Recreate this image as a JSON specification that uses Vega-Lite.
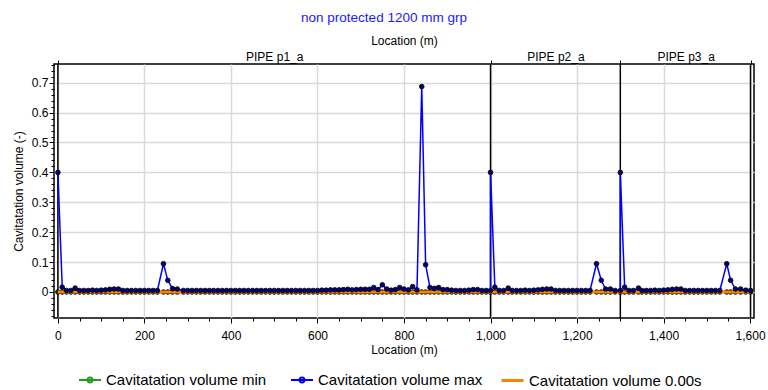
{
  "$schema": "https://vega.github.io/schema/vega-lite/v6.json",
  "width": 700,
  "height": 254,
  "autosize": {"type": "none"},
  "padding": {"left": 54, "top": 64, "right": 14, "bottom": 72},
  "background": "white",
  "config": {
    "font": "Liberation Sans",
    "view": {"stroke": "black", "strokeWidth": 1.5},
    "axis": {
      "labelFont": "Liberation Sans", "titleFont": "Liberation Sans",
      "labelColor": "black", "titleColor": "black", "titleFontWeight": "normal",
      "labelFontSize": 12, "titleFontSize": 12, "domain": false,
      "tickColor": "black", "gridColor": "#d9d9d9", "gridWidth": 1.5
    },
    "legend": {
      "labelFontSize": 15, "labelFont": "Liberation Sans", "labelColor": "black", "labelLimit": 400,
      "symbolSize": 484, "symbolStrokeWidth": 2, "labelOffset": 4, "padding": 0
    }
  },
  "title": {"text": "non protected 1200 mm grp", "color": "#1a1aff", "fontSize": 13.5, "fontWeight": "normal", "font": "Liberation Sans", "anchor": "middle", "dx": -20, "offset": 10},
  "datasets": {
    "pipes": [{"b": 0}, {"b": 1000}, {"b": 1300}, {"b": 1601}],
    "nodes": [
      {"i":0,"x":0,"mx":0.4,"mn":0,"t0":0},
      {"i":1,"x":10,"mx":0.016,"mn":0,"t0":0},
      {"i":2,"x":20,"mx":0.005,"mn":0,"t0":0},
      {"i":3,"x":30,"mx":0.005,"mn":0,"t0":0},
      {"i":4,"x":40,"mx":0.013,"mn":0,"t0":0},
      {"i":5,"x":50,"mx":0.005,"mn":0,"t0":0},
      {"i":6,"x":60,"mx":0.005,"mn":0,"t0":0},
      {"i":7,"x":70,"mx":0.005,"mn":0,"t0":0},
      {"i":8,"x":80,"mx":0.006,"mn":0,"t0":0},
      {"i":9,"x":90,"mx":0.005,"mn":0,"t0":0},
      {"i":10,"x":100,"mx":0.006,"mn":0,"t0":0},
      {"i":11,"x":110,"mx":0.007,"mn":0,"t0":0},
      {"i":12,"x":120,"mx":0.009,"mn":0,"t0":0},
      {"i":13,"x":130,"mx":0.01,"mn":0,"t0":0},
      {"i":14,"x":140,"mx":0.01,"mn":0,"t0":0},
      {"i":15,"x":150,"mx":0.005,"mn":0,"t0":0},
      {"i":16,"x":160,"mx":0.005,"mn":0,"t0":0},
      {"i":17,"x":170,"mx":0.005,"mn":0,"t0":0},
      {"i":18,"x":180,"mx":0.005,"mn":0,"t0":0},
      {"i":19,"x":190,"mx":0.005,"mn":0,"t0":0},
      {"i":20,"x":200,"mx":0.005,"mn":0,"t0":0},
      {"i":21,"x":210,"mx":0.005,"mn":0,"t0":0},
      {"i":22,"x":220,"mx":0.005,"mn":0,"t0":0},
      {"i":23,"x":230,"mx":0.005,"mn":0,"t0":0},
      {"i":24,"x":244,"mx":0.0945,"mn":0,"t0":0},
      {"i":25,"x":254,"mx":0.039,"mn":0,"t0":0},
      {"i":26,"x":265,"mx":0.011,"mn":0,"t0":0},
      {"i":27,"x":276,"mx":0.01,"mn":0,"t0":0},
      {"i":28,"x":290,"mx":0.005,"mn":0,"t0":0},
      {"i":29,"x":300,"mx":0.005,"mn":0,"t0":0},
      {"i":30,"x":310,"mx":0.005,"mn":0,"t0":0},
      {"i":31,"x":320,"mx":0.005,"mn":0,"t0":0},
      {"i":32,"x":330,"mx":0.005,"mn":0,"t0":0},
      {"i":33,"x":340,"mx":0.005,"mn":0,"t0":0},
      {"i":34,"x":350,"mx":0.005,"mn":0,"t0":0},
      {"i":35,"x":360,"mx":0.005,"mn":0,"t0":0},
      {"i":36,"x":370,"mx":0.005,"mn":0,"t0":0},
      {"i":37,"x":380,"mx":0.005,"mn":0,"t0":0},
      {"i":38,"x":390,"mx":0.005,"mn":0,"t0":0},
      {"i":39,"x":400,"mx":0.005,"mn":0,"t0":0},
      {"i":40,"x":410,"mx":0.005,"mn":0,"t0":0},
      {"i":41,"x":420,"mx":0.005,"mn":0,"t0":0},
      {"i":42,"x":430,"mx":0.005,"mn":0,"t0":0},
      {"i":43,"x":440,"mx":0.005,"mn":0,"t0":0},
      {"i":44,"x":450,"mx":0.005,"mn":0,"t0":0},
      {"i":45,"x":460,"mx":0.005,"mn":0,"t0":0},
      {"i":46,"x":470,"mx":0.005,"mn":0,"t0":0},
      {"i":47,"x":480,"mx":0.005,"mn":0,"t0":0},
      {"i":48,"x":490,"mx":0.005,"mn":0,"t0":0},
      {"i":49,"x":500,"mx":0.005,"mn":0,"t0":0},
      {"i":50,"x":510,"mx":0.005,"mn":0,"t0":0},
      {"i":51,"x":520,"mx":0.005,"mn":0,"t0":0},
      {"i":52,"x":530,"mx":0.005,"mn":0,"t0":0},
      {"i":53,"x":540,"mx":0.005,"mn":0,"t0":0},
      {"i":54,"x":550,"mx":0.005,"mn":0,"t0":0},
      {"i":55,"x":560,"mx":0.005,"mn":0,"t0":0},
      {"i":56,"x":570,"mx":0.005,"mn":0,"t0":0},
      {"i":57,"x":580,"mx":0.005,"mn":0,"t0":0},
      {"i":58,"x":590,"mx":0.005,"mn":0,"t0":0},
      {"i":59,"x":600,"mx":0.005,"mn":0,"t0":0},
      {"i":60,"x":610,"mx":0.006,"mn":0,"t0":0},
      {"i":61,"x":620,"mx":0.006,"mn":0,"t0":0},
      {"i":62,"x":630,"mx":0.007,"mn":0,"t0":0},
      {"i":63,"x":640,"mx":0.007,"mn":0,"t0":0},
      {"i":64,"x":650,"mx":0.007,"mn":0,"t0":0},
      {"i":65,"x":660,"mx":0.008,"mn":0,"t0":0},
      {"i":66,"x":670,"mx":0.009,"mn":0,"t0":0},
      {"i":67,"x":680,"mx":0.007,"mn":0,"t0":0},
      {"i":68,"x":690,"mx":0.008,"mn":0,"t0":0},
      {"i":69,"x":700,"mx":0.009,"mn":0,"t0":0},
      {"i":70,"x":710,"mx":0.009,"mn":0,"t0":0},
      {"i":71,"x":720,"mx":0.009,"mn":0,"t0":0},
      {"i":72,"x":730,"mx":0.015,"mn":0,"t0":0},
      {"i":73,"x":740,"mx":0.008,"mn":0,"t0":0},
      {"i":74,"x":750,"mx":0.024,"mn":0,"t0":0},
      {"i":75,"x":760,"mx":0.01,"mn":0,"t0":0},
      {"i":76,"x":770,"mx":0.006,"mn":0,"t0":0},
      {"i":77,"x":780,"mx":0.008,"mn":0,"t0":0},
      {"i":78,"x":790,"mx":0.015,"mn":0,"t0":0},
      {"i":79,"x":800,"mx":0.01,"mn":0,"t0":0},
      {"i":80,"x":810,"mx":0.007,"mn":0,"t0":0},
      {"i":81,"x":820,"mx":0.018,"mn":0,"t0":0},
      {"i":82,"x":830,"mx":0.007,"mn":0,"t0":0},
      {"i":83,"x":841,"mx":0.687,"mn":0,"t0":0},
      {"i":84,"x":850,"mx":0.091,"mn":0,"t0":0},
      {"i":85,"x":860,"mx":0.015,"mn":0,"t0":0},
      {"i":86,"x":870,"mx":0.012,"mn":0,"t0":0},
      {"i":87,"x":880,"mx":0.015,"mn":0,"t0":0},
      {"i":88,"x":890,"mx":0.008,"mn":0,"t0":0},
      {"i":89,"x":900,"mx":0.008,"mn":0,"t0":0},
      {"i":90,"x":910,"mx":0.006,"mn":0,"t0":0},
      {"i":91,"x":920,"mx":0.005,"mn":0,"t0":0},
      {"i":92,"x":930,"mx":0.005,"mn":0,"t0":0},
      {"i":93,"x":940,"mx":0.005,"mn":0,"t0":0},
      {"i":94,"x":950,"mx":0.006,"mn":0,"t0":0},
      {"i":95,"x":960,"mx":0.008,"mn":0,"t0":0},
      {"i":96,"x":970,"mx":0.008,"mn":0,"t0":0},
      {"i":97,"x":980,"mx":0.005,"mn":0,"t0":0},
      {"i":98,"x":990,"mx":0.005,"mn":0,"t0":0},
      {"i":99,"x":1000,"mx":0.005,"mn":0,"t0":0},
      {"i":100,"x":1000,"mx":0.4,"mn":0,"t0":0},
      {"i":101,"x":1010,"mx":0.016,"mn":0,"t0":0},
      {"i":102,"x":1020,"mx":0.005,"mn":0,"t0":0},
      {"i":103,"x":1030,"mx":0.005,"mn":0,"t0":0},
      {"i":104,"x":1041,"mx":0.013,"mn":0,"t0":0},
      {"i":105,"x":1050,"mx":0.005,"mn":0,"t0":0},
      {"i":106,"x":1060,"mx":0.005,"mn":0,"t0":0},
      {"i":107,"x":1070,"mx":0.005,"mn":0,"t0":0},
      {"i":108,"x":1080,"mx":0.006,"mn":0,"t0":0},
      {"i":109,"x":1090,"mx":0.005,"mn":0,"t0":0},
      {"i":110,"x":1100,"mx":0.006,"mn":0,"t0":0},
      {"i":111,"x":1110,"mx":0.007,"mn":0,"t0":0},
      {"i":112,"x":1120,"mx":0.009,"mn":0,"t0":0},
      {"i":113,"x":1130,"mx":0.01,"mn":0,"t0":0},
      {"i":114,"x":1140,"mx":0.01,"mn":0,"t0":0},
      {"i":115,"x":1150,"mx":0.005,"mn":0,"t0":0},
      {"i":116,"x":1160,"mx":0.005,"mn":0,"t0":0},
      {"i":117,"x":1170,"mx":0.005,"mn":0,"t0":0},
      {"i":118,"x":1180,"mx":0.005,"mn":0,"t0":0},
      {"i":119,"x":1190,"mx":0.005,"mn":0,"t0":0},
      {"i":120,"x":1200,"mx":0.005,"mn":0,"t0":0},
      {"i":121,"x":1210,"mx":0.005,"mn":0,"t0":0},
      {"i":122,"x":1220,"mx":0.005,"mn":0,"t0":0},
      {"i":123,"x":1230,"mx":0.005,"mn":0,"t0":0},
      {"i":124,"x":1245,"mx":0.0945,"mn":0,"t0":0},
      {"i":125,"x":1256,"mx":0.039,"mn":0,"t0":0},
      {"i":126,"x":1266,"mx":0.01,"mn":0,"t0":0},
      {"i":127,"x":1277,"mx":0.01,"mn":0,"t0":0},
      {"i":128,"x":1288,"mx":0.005,"mn":0,"t0":0},
      {"i":129,"x":1300,"mx":0.005,"mn":0,"t0":0},
      {"i":130,"x":1300,"mx":0.4,"mn":0,"t0":0},
      {"i":131,"x":1310,"mx":0.016,"mn":0,"t0":0},
      {"i":132,"x":1320,"mx":0.005,"mn":0,"t0":0},
      {"i":133,"x":1330,"mx":0.005,"mn":0,"t0":0},
      {"i":134,"x":1342,"mx":0.013,"mn":0,"t0":0},
      {"i":135,"x":1350,"mx":0.005,"mn":0,"t0":0},
      {"i":136,"x":1360,"mx":0.005,"mn":0,"t0":0},
      {"i":137,"x":1370,"mx":0.005,"mn":0,"t0":0},
      {"i":138,"x":1380,"mx":0.006,"mn":0,"t0":0},
      {"i":139,"x":1390,"mx":0.005,"mn":0,"t0":0},
      {"i":140,"x":1400,"mx":0.006,"mn":0,"t0":0},
      {"i":141,"x":1410,"mx":0.007,"mn":0,"t0":0},
      {"i":142,"x":1420,"mx":0.009,"mn":0,"t0":0},
      {"i":143,"x":1430,"mx":0.01,"mn":0,"t0":0},
      {"i":144,"x":1440,"mx":0.01,"mn":0,"t0":0},
      {"i":145,"x":1450,"mx":0.005,"mn":0,"t0":0},
      {"i":146,"x":1460,"mx":0.005,"mn":0,"t0":0},
      {"i":147,"x":1470,"mx":0.005,"mn":0,"t0":0},
      {"i":148,"x":1480,"mx":0.005,"mn":0,"t0":0},
      {"i":149,"x":1490,"mx":0.005,"mn":0,"t0":0},
      {"i":150,"x":1500,"mx":0.005,"mn":0,"t0":0},
      {"i":151,"x":1510,"mx":0.005,"mn":0,"t0":0},
      {"i":152,"x":1520,"mx":0.005,"mn":0,"t0":0},
      {"i":153,"x":1530,"mx":0.005,"mn":0,"t0":0},
      {"i":154,"x":1546,"mx":0.0945,"mn":0,"t0":0},
      {"i":155,"x":1555,"mx":0.039,"mn":0,"t0":0},
      {"i":156,"x":1566,"mx":0.01,"mn":0,"t0":0},
      {"i":157,"x":1578,"mx":0.01,"mn":0,"t0":0},
      {"i":158,"x":1590,"mx":0.006,"mn":0,"t0":0},
      {"i":159,"x":1601,"mx":0.005,"mn":0,"t0":0}
    ]
  },
  "resolve": {"axis": {"x": "independent", "y": "independent"}, "scale": {"color": "independent"}, "legend": {"color": "independent"}},
  "layer": [
    {
      "data": {"name": "pipes"},
      "mark": {"type": "rule", "color": "black", "strokeWidth": 1.5},
      "encoding": {
        "x": {
          "field": "b", "type": "quantitative",
          "scale": {"domain": [-9, 1609], "nice": false, "zero": false},
          "axis": {
            "orient": "top", "title": "Location (m)", "grid": false, "ticks": false,
            "values": [500, 1150, 1451],
            "labelExpr": "datum.value==500?'PIPE p1_a':datum.value==1150?'PIPE p2_a':'PIPE p3_a'",
            "labelPadding": 1, "titlePadding": 3,
            "labelFlush": false, "labelOverlap": false
          }
        }
      }
    },
    {
      "data": {"name": "nodes"},
      "transform": [{"fold": ["mn", "t0", "mx"], "as": ["series", "v"]}, {"filter": "datum.series == 'mn'"}],
      "mark": {"type": "line", "strokeWidth": 1.5},
      "encoding": {
        "x": {
          "field": "x", "type": "quantitative",
          "scale": {"domain": [-9, 1609], "nice": false, "zero": false},
          "axis": {
            "orient": "bottom", "title": "Location (m)",
            "values": [0,200,400,600,800,1000,1200,1400,1600],
            "format": ",.0f", "grid": true,
            "tickSize": 5, "labelPadding": 7, "titlePadding": 3,
            "labelFlush": false, "labelOverlap": false
          }
        },
        "y": {
          "field": "v", "type": "quantitative",
          "scale": {"domain": [-0.087, 0.7625], "nice": false, "zero": false},
          "axis": {
            "orient": "left", "title": "Cavitatation volume (-)",
            "values": [0,0.1,0.2,0.3,0.4,0.5,0.6,0.7],
            "format": "~g", "grid": true,
            "tickSize": 5, "labelPadding": 1, "titlePadding": 6,
            "labelOverlap": false
          }
        },
        "order": {"field": "i", "type": "quantitative"},
        "color": {
          "field": "series", "type": "nominal",
          "scale": {"domain": ["mn"], "range": ["#1e9e1e"]},
          "legend": {
            "orient": "none", "legendX": 24, "legendY": 304, "title": null,
            "labelExpr": "'Cavitatation volume min'",
            "symbolType": "M-1,0H1M-0.22,0A0.22,0.22,0,1,1,0.22,0A0.22,0.22,0,1,1,-0.22,0Z"
          }
        }
      }
    },
    {
      "data": {"name": "nodes"},
      "transform": [{"fold": ["mn", "t0", "mx"], "as": ["series", "v"]}, {"filter": "datum.series == 'mn'"}],
      "mark": {"type": "point", "filled": true, "fill": "#0a3a0a", "stroke": "black", "strokeWidth": 0.8, "size": 22, "opacity": 1},
      "encoding": {
        "x": {
          "field": "x", "type": "quantitative", "scale": {"domain": [-9, 1609], "nice": false, "zero": false},
          "axis": {"orient": "bottom", "title": null, "labels": false, "grid": false, "tickSize": 3,
            "values": [50,100,150,250,300,350,450,500,550,650,700,750,850,900,950,1050,1100,1150,1250,1300,1350,1450,1500,1550]}
        },
        "y": {
          "field": "v", "type": "quantitative", "scale": {"domain": [-0.087, 0.7625], "nice": false, "zero": false},
          "axis": {"orient": "left", "title": null, "labels": false, "grid": false, "tickSize": 3,
            "values": [-0.08,-0.06,-0.04,-0.02,0.02,0.04,0.06,0.08,0.12,0.14,0.16,0.18,0.22,0.24,0.26,0.28,0.32,0.34,0.36,0.38,0.42,0.44,0.46,0.48,0.52,0.54,0.56,0.58,0.62,0.64,0.66,0.68,0.72,0.74,0.76]}
        }
      }
    },
    {
      "data": {"name": "nodes"},
      "transform": [{"fold": ["mn", "t0", "mx"], "as": ["series", "v"]}, {"filter": "datum.series == 't0'"}],
      "mark": {"type": "line", "strokeWidth": 3},
      "encoding": {
        "x": {
          "field": "x", "type": "quantitative", "scale": {"domain": [-9, 1609], "nice": false, "zero": false},
          "axis": {"orient": "top", "title": null, "labels": false, "grid": false, "tickSize": 4, "values": [0, 1000, 1300, 1601]}
        },
        "y": {"field": "v", "type": "quantitative", "scale": {"domain": [-0.087, 0.7625], "nice": false, "zero": false}, "axis": null},
        "order": {"field": "i", "type": "quantitative"},
        "color": {
          "field": "series", "type": "nominal",
          "scale": {"domain": ["t0"], "range": ["#ff8000"]},
          "legend": {
            "orient": "none", "legendX": 446, "legendY": 304, "title": null,
            "labelExpr": "'Cavitatation volume 0.00s'",
            "symbolType": "M-1,0H1", "symbolStrokeWidth": 3
          }
        }
      }
    },
    {
      "data": {"name": "nodes"},
      "transform": [{"fold": ["mn", "t0", "mx"], "as": ["series", "v"]}, {"filter": "datum.series == 'mx'"}],
      "mark": {"type": "line", "strokeWidth": 1.5},
      "encoding": {
        "x": {"field": "x", "type": "quantitative", "scale": {"domain": [-9, 1609], "nice": false, "zero": false}, "axis": null},
        "y": {"field": "v", "type": "quantitative", "scale": {"domain": [-0.087, 0.7625], "nice": false, "zero": false}, "axis": null},
        "order": {"field": "i", "type": "quantitative"},
        "color": {
          "field": "series", "type": "nominal",
          "scale": {"domain": ["mx"], "range": ["#0000ff"]},
          "legend": {
            "orient": "none", "legendX": 236, "legendY": 304, "title": null,
            "labelExpr": "'Cavitatation volume max'",
            "symbolType": "M-1,0H1M-0.22,0A0.22,0.22,0,1,1,0.22,0A0.22,0.22,0,1,1,-0.22,0Z"
          }
        }
      }
    },
    {
      "data": {"name": "nodes"},
      "transform": [{"fold": ["mn", "t0", "mx"], "as": ["series", "v"]}, {"filter": "datum.series == 'mx'"}],
      "mark": {"type": "point", "filled": true, "fill": "#000080", "stroke": "black", "strokeWidth": 0.8, "size": 22, "opacity": 1},
      "encoding": {
        "x": {"field": "x", "type": "quantitative", "scale": {"domain": [-9, 1609], "nice": false, "zero": false}, "axis": null},
        "y": {"field": "v", "type": "quantitative", "scale": {"domain": [-0.087, 0.7625], "nice": false, "zero": false}, "axis": null}
      }
    }
  ]
}
